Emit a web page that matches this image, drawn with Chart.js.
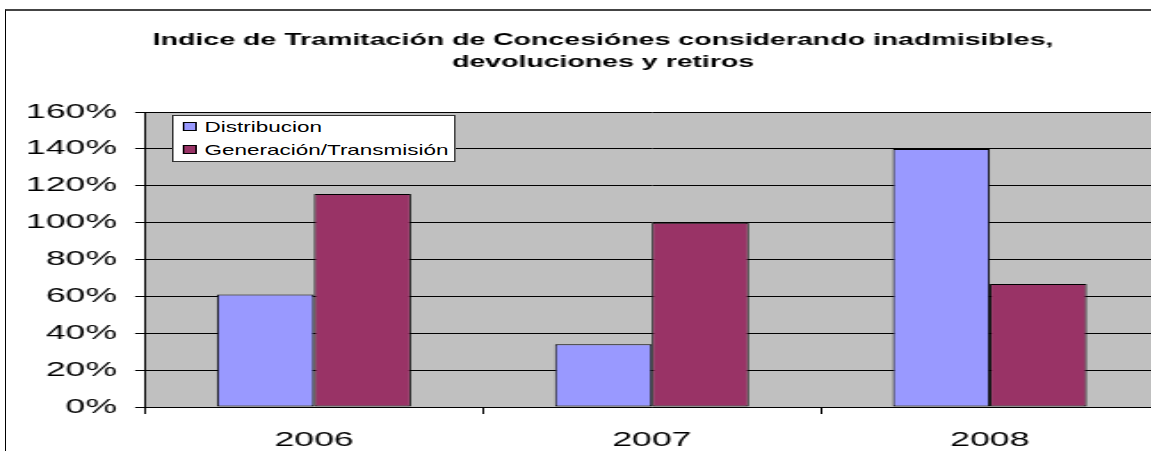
<!DOCTYPE html>
<html>
<head>
<meta charset="utf-8">
<script src="https://cdn.jsdelivr.net/npm/chart.js@4.4.0/dist/chart.umd.min.js"></script>
<style>
  html, body { margin: 0; padding: 0; background: #fff; overflow: hidden; width: 1151px; height: 451px; }
  #frame { position: absolute; left: 5px; top: 9px; width: 2000px; height: 2000px;
           border-left: 1px solid #000; border-top: 2px solid #444; }
  #wrap { position: absolute; left: 0; top: 0; width: 651px; height: 451px;
          transform: scaleX(1.78); transform-origin: 0 0; }
  #legend { position: absolute; left: 172px; top: 115px; width: 181px; height: 45px;
            background: #fff; border: 1px solid #333;
            transform: scaleX(1.55); transform-origin: 0 0;
            font-family: "Liberation Sans", Arial, sans-serif; font-size: 14.5px; color: #000; }
  .item { position: absolute; left: 6px; white-space: nowrap; }
  .sw { display: inline-block; width: 7px; height: 7px; border: 1px solid #000; margin-right: 5px; vertical-align: 1px; }
</style>
</head>
<body>
<div id="frame"></div>
<div id="wrap">
  <canvas id="mycanvas" width="651" height="451"></canvas>
</div>
<div id="legend"></div>
<script>
var years = ['2006', '2007', '2008'];
var distribucion = [61, 34, 140];
var generacion = [115.5, 100, 66.7];
var seriesNames = ['Distribucion', 'Generación/Transmisión'];
var seriesColors = ['#9999FF', '#993366'];
var yTicks = [0, 20, 40, 60, 80, 100, 120, 140, 160];
var titleLines = ['Indice de Tramitación de Concesiónes considerando inadmisibles,',
                  'devoluciones y retiros'];

var font = '"Liberation Sans", Arial, sans-serif';

// legend box inside the plot
var leg = document.getElementById('legend');
seriesNames.forEach(function(name, i) {
    var d = document.createElement('div');
    d.className = 'item';
    d.style.top = (3 + i * 23) + 'px';
    d.innerHTML = '<span class="sw" style="background:' + seriesColors[i] + '"></span>' + name;
    leg.appendChild(d);
});

var plotBg = {
    id: 'plotBg',
    beforeDraw: function(chart) {
        var a = chart.chartArea, ctx = chart.ctx;
        ctx.save();
        ctx.fillStyle = '#C0C0C0';
        ctx.fillRect(a.left, a.top, a.right - a.left, a.bottom - a.top);
        ctx.restore();
    }
};

// title drawn at a fixed centre (the frame is wider than the window)
var chartTitle = {
    id: 'chartTitle',
    afterDraw: function(chart) {
        var ctx = chart.ctx;
        ctx.save();
        ctx.fillStyle = '#000';
        ctx.font = 'bold 16px ' + font;
        ctx.textAlign = 'center';
        ctx.textBaseline = 'middle';
        ctx.fillText(titleLines[0], 338.8, 41);
        ctx.fillText(titleLines[1], 338.8, 62.5);
        ctx.restore();
    }
};

var chartdata = {
    labels: years,
    datasets: [
        { label: seriesNames[0], data: distribucion, backgroundColor: seriesColors[0],
          borderColor: '#000', borderWidth: 1, borderSkipped: false },
        { label: seriesNames[1], data: generacion, backgroundColor: seriesColors[1],
          borderColor: '#000', borderWidth: 1, borderSkipped: false }
    ]
};

var ctx = document.getElementById('mycanvas');
var barGraph = new Chart(ctx, {
    type: 'bar',
    data: chartdata,
    plugins: [plotBg, chartTitle],
    options: {
        animation: false,
        responsive: false,
        maintainAspectRatio: false,
        layout: { padding: { left: 0, right: 0, top: 112, bottom: 0 } },
        categoryPercentage: 0.574,
        barPercentage: 1,
        plugins: {
            legend: { display: false },
            tooltip: { enabled: false },
            title: { display: false }
        },
        scales: {
            x: {
                offset: true,
                afterFit: function(scale) { scale.height = 44; },
                grid: { offset: true, drawOnChartArea: false, color: '#000', tickLength: 7 },
                border: { color: '#000' },
                ticks: { color: '#000', font: { family: font, size: 20 }, padding: 14 }
            },
            y: {
                min: 0, max: 160,
                afterFit: function(scale) { scale.width = 81.46; },
                afterBuildTicks: function(scale) {
                    scale.ticks = yTicks.map(function(v) { return { value: v }; });
                },
                grid: { color: '#000', tickLength: 5.6 },
                border: { color: '#000' },
                ticks: {
                    color: '#000', padding: 10.1,
                    font: { family: font, size: 20 },
                    callback: function(v) { return v + '%'; }
                }
            }
        }
    }
});
</script>
</body>
</html>
